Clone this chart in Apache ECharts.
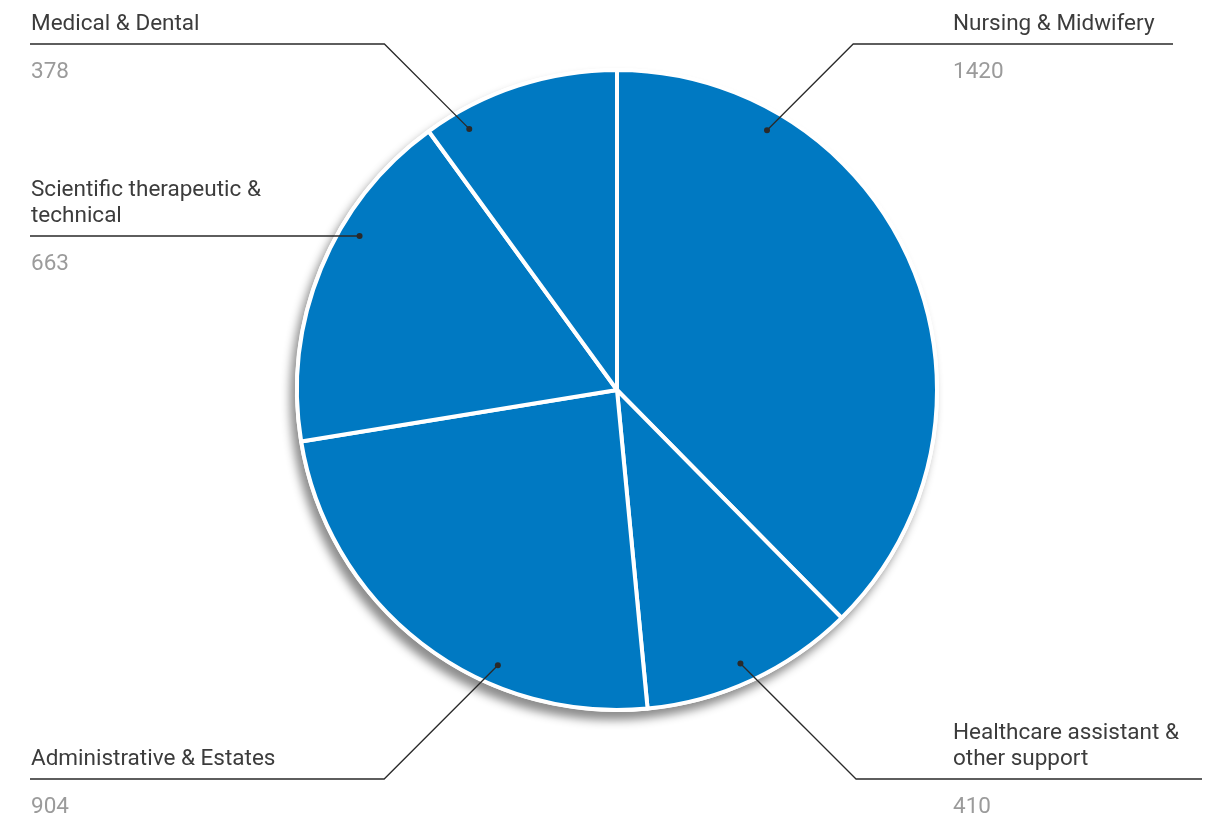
<!DOCTYPE html>
<html>
<head>
<meta charset="utf-8">
<script src="https://cdn.jsdelivr.net/npm/echarts@6/dist/echarts.min.js"></script>
<style>
html,body{margin:0;padding:0;background:#fff;}
#chart{width:1221px;height:817px;}
</style>
</head>
<body>
<div id="chart"></div>
<script>
// ---- data ----
const categories = ['Nursing & Midwifery', 'Healthcare assistant & other support', 'Administrative & Estates', 'Scientific therapeutic & technical', 'Medical & Dental'];
const values = [1420, 410, 904, 663, 378];

// ---- layout / style (not data) ----
const CENTER = [617, 390];
const RADIUS = 320;
const DOT_R = 300;
const callouts = [
  { dotAngle: 30.0,  lineY: 44,  lineEnd: 1173, labelX: 953 },
  { dotAngle: 155.7, lineY: 779, lineEnd: 1202, labelX: 953 },
  { dotAngle: 203.4, lineY: 779, lineEnd: 30,   labelX: 31 },
  { dotAngle: 300.9, lineY: 236, lineEnd: 30,   labelX: 31 },
  { dotAngle: 330.5, lineY: 44,  lineEnd: 30,   labelX: 31 }
];
const FONT = 'Roboto';
const FONT_SIZE = 22.5;
const WRAP_WIDTH = 250;
const BLUE = '#0079c2';
const LINE_COLOR = '#2a2a2a';

function dotPos(i) {
  const a = callouts[i].dotAngle * Math.PI / 180;
  return [CENTER[0] + DOT_R * Math.sin(a), CENTER[1] - DOT_R * Math.cos(a)];
}
function linePoints(i) {
  const c = callouts[i];
  const d = dotPos(i);
  const dy = Math.abs(c.lineY - d[1]);
  const sign = c.lineEnd > d[0] ? 1 : -1;
  return [d, [d[0] + sign * dy, c.lineY], [c.lineEnd, c.lineY]];
}
const measureCtx = document.createElement('canvas').getContext('2d');
measureCtx.font = FONT_SIZE + 'px ' + FONT;
function wrapName(name) {
  const words = name.split(' ');
  const lines = [];
  let cur = '';
  words.forEach(w => {
    const t = cur ? cur + ' ' + w : w;
    if (cur && measureCtx.measureText(t).width > WRAP_WIDTH) { lines.push(cur); cur = w; }
    else cur = t;
  });
  if (cur) lines.push(cur);
  return lines;
}

const total = values.reduce((a, b) => a + b, 0);
const chart = echarts.init(document.getElementById('chart'), null, { renderer: 'canvas' });

const leaderGraphics = [];
callouts.forEach((c, i) => {
  const d = dotPos(i);
  leaderGraphics.push({ type: 'polyline', z: 100, silent: true, shape: { points: linePoints(i) }, style: { stroke: LINE_COLOR, lineWidth: 1.3, fill: null } });
  leaderGraphics.push({ type: 'circle', z: 101, silent: true, shape: { cx: d[0], cy: d[1], r: 3 }, style: { fill: LINE_COLOR } });
});

const option = {
  animation: false,
  backgroundColor: '#fff',
  series: [
    {
      type: 'pie',
      silent: true,
      z: 1,
      center: CENTER,
      radius: [0, RADIUS + 2],
      label: { show: false },
      labelLine: { show: false },
      itemStyle: {
        color: '#ffffff',
        shadowBlur: 10,
        shadowColor: 'rgba(0,0,0,0.45)',
        shadowOffsetX: -5,
        shadowOffsetY: 8
      },
      data: [{ value: total, name: 'all' }]
    },
    {
      type: 'pie',
      z: 2,
      center: CENTER,
      radius: [0, RADIUS],
      startAngle: 90,
      clockwise: true,
      avoidLabelOverlap: false,
      emphasis: { disabled: true },
      itemStyle: { color: BLUE, borderColor: '#ffffff', borderWidth: 4 },
      label: {
        show: true,
        position: 'outside',
        fontFamily: FONT,
        formatter: p => wrapName(p.name).map(l => '{n|' + l + '}').join('\n') + '\n{s| }\n{v|' + p.value + '}',
        rich: {
          n: { fontFamily: FONT, fontSize: FONT_SIZE, lineHeight: 26, color: '#3c3c3c' },
          s: { fontSize: 10, lineHeight: 22 },
          v: { fontFamily: FONT, fontSize: FONT_SIZE, lineHeight: 26, color: '#9b9b9b' }
        }
      },
      labelLine: { show: false },
      labelLayout: function (params) {
        const i = params.dataIndex;
        const c = callouts[i];
        const h = params.labelRect.height;
        return {
          x: c.labelX,
          y: c.lineY - 10 - (h - 48),
          align: 'left',
          verticalAlign: 'top'
        };
      },
      data: categories.map((name, i) => ({ name: name, value: values[i] }))
    }
  ],
  graphic: leaderGraphics
};
chart.setOption(option);
</script>
</body>
</html>
